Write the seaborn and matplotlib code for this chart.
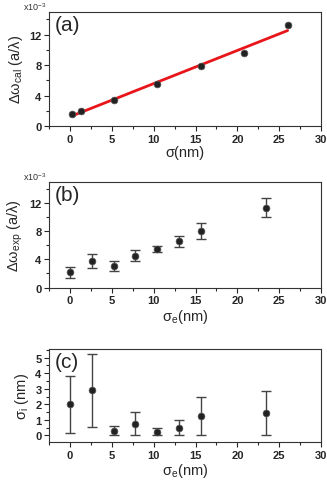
import numpy as np
import pandas as pd
import matplotlib
matplotlib.use('Agg')
import matplotlib.pyplot as plt
from matplotlib.ticker import MultipleLocator
import seaborn as sns

# (a) calculated shift vs sigma
sig_a = [0.3, 1.3, 5.2, 10.4, 15.6, 20.8, 26.0]
dw_cal = [1.55, 1.99, 3.41, 5.52, 7.90, 9.54, 13.25]

# (b) experimental shift vs sigma_e
sig_e = [0.0, 2.6, 5.2, 7.8, 10.4, 13.0, 15.6, 23.4]
dw_exp = [2.16, 3.72, 3.10, 4.52, 5.46, 6.54, 8.05, 11.34]
dw_err = [0.82, 1.0, 0.70, 0.80, 0.47, 0.78, 1.15, 1.34]

# (c) sigma_i vs sigma_e (asymmetric errors)
sig_i = [2.0, 2.91, 0.30, 0.75, 0.24, 0.50, 1.25, 1.42]
sig_i_lo = [1.83, 2.37, 0.30, 0.75, 0.24, 0.50, 1.25, 1.42]
sig_i_hi = [1.84, 2.35, 0.30, 0.76, 0.23, 0.49, 1.25, 1.42]

sns.set_style('ticks')
plt.rcParams['font.family'] = ['Liberation Sans', 'DejaVu Sans']
plt.rcParams['mathtext.fontset'] = 'custom'
plt.rcParams['mathtext.rm'] = 'Liberation Sans'
plt.rcParams['mathtext.it'] = 'Liberation Sans:italic'

fig = plt.figure(figsize=(3.27, 4.85), dpi=100)
ax_a = fig.add_axes([0.150, 0.738, 0.832, 0.236])
ax_b = fig.add_axes([0.150, 0.405, 0.832, 0.218])
ax_c = fig.add_axes([0.150, 0.086, 0.832, 0.192])

pt = dict(color='#222222', s=24, edgecolor='#555555', linewidth=0.5, zorder=3, legend=False)
eb = dict(fmt='none', ecolor='#444444', elinewidth=1.0, capsize=3.8, capthick=1.0, zorder=2)

df_a = pd.DataFrame({'x': sig_a, 'y': dw_cal})
sns.regplot(data=df_a, x='x', y='y', ax=ax_a, scatter=False, ci=None, truncate=True,
            line_kws=dict(color='#e8151b', lw=2.0, zorder=2))
sns.scatterplot(data=df_a, x='x', y='y', ax=ax_a, **pt)

df_b = pd.DataFrame({'x': sig_e, 'y': dw_exp, 'e': dw_err})
ax_b.errorbar(df_b['x'], df_b['y'], yerr=df_b['e'], **eb)
sns.scatterplot(data=df_b, x='x', y='y', ax=ax_b, **pt)

df_c = pd.DataFrame({'x': sig_e, 'y': sig_i, 'lo': sig_i_lo, 'hi': sig_i_hi})
ax_c.errorbar(df_c['x'], df_c['y'], yerr=[df_c['lo'], df_c['hi']], **eb)
sns.scatterplot(data=df_c, x='x', y='y', ax=ax_c, **pt)

for ax in (ax_a, ax_b, ax_c):
    ax.set_xlim(-2.5, 30)
    ax.xaxis.set_major_locator(MultipleLocator(5))
    ax.xaxis.set_minor_locator(MultipleLocator(2.5))
    ax.tick_params(which='major', direction='out', length=3.5, width=0.8,
                   labelsize=8, pad=2, top=False, right=False)
    ax.tick_params(which='minor', direction='out', length=2, width=0.8,
                   top=False, right=False)
    for lab in ax.get_xticklabels() + ax.get_yticklabels():
        lab.set_fontweight('bold')
    for sp in ax.spines.values():
        sp.set_visible(True)
        sp.set_linewidth(0.8)
        sp.set_color('#333333')

for ax in (ax_a, ax_b):
    ax.set_ylim(0, 15)
    ax.yaxis.set_major_locator(MultipleLocator(4))
    ax.yaxis.set_minor_locator(MultipleLocator(2))
    ax.text(-0.01, 0.995, 'x10$^{-3}$', transform=ax.transAxes, fontsize=6.5,
            ha='right', va='bottom', color='#333333')

ax_c.set_ylim(-0.45, 5.55)
ax_c.yaxis.set_major_locator(MultipleLocator(1))
ax_c.yaxis.set_minor_locator(MultipleLocator(0.5))

lab_fs = 10.5
ax_a.set_xlabel('σ(nm)', fontsize=lab_fs, labelpad=1)
ax_a.set_ylabel('Δω$_{\\rm cal}$ (a/λ)', fontsize=lab_fs, labelpad=3)
ax_b.set_xlabel('σ$_{\\rm e}$(nm)', fontsize=lab_fs, labelpad=1)
ax_b.set_ylabel('Δω$_{\\rm exp}$ (a/λ)', fontsize=lab_fs, labelpad=3)
ax_c.set_xlabel('σ$_{\\rm e}$(nm)', fontsize=lab_fs, labelpad=1)
ax_c.set_ylabel('σ$_{\\rm i}$ (nm)', fontsize=lab_fs, labelpad=3)

for ax, tag in ((ax_a, '(a)'), (ax_b, '(b)'), (ax_c, '(c)')):
    ax.text(0.02, 0.97, tag, transform=ax.transAxes, fontsize=15,
            ha='left', va='top')

fig.savefig('out.png', dpi=100)
